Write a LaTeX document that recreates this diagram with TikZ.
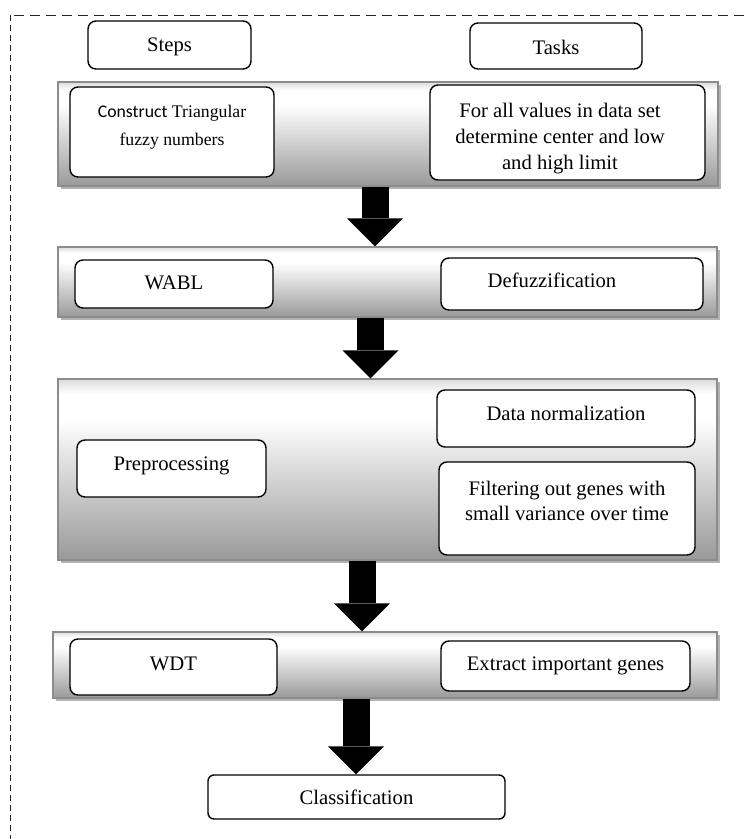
\documentclass[tikz,border=0pt]{standalone}
\usepackage{fontspec}
\setmainfont{Liberation Serif}
\newfontfamily\calibfont{Carlito}
\usetikzlibrary{shadows,arrows.meta,calc}
\newlength\pxu
\setlength\pxu{0.75pt}
\pgfdeclareverticalshading{bandshade}{100bp}{color(0bp)=(black!40); color(25bp)=(black!40); color(64bp)=(white); color(71bp)=(white); color(75bp)=(black!14); color(100bp)=(black!14)}
% #1 raise (px, up), #2 twice the horizontal shift (px), #3 text
\newcommand\tcell[3]{\raisebox{\dimexpr #1\pxu - 7\pxu\relax}[0pt][0pt]{\kern#2\pxu\begin{tabular}{@{}c@{}}#3\end{tabular}}}
\begin{document}
\begin{tikzpicture}[x=0.75pt,y=-0.75pt,
  band/.style={draw=black!45, line width=1.2\pxu, shading=bandshade, inner sep=0pt,
    drop shadow={shadow xshift=2.5\pxu, shadow yshift=-3\pxu, opacity=0.3, fill=black}},
  rbox/.style={draw=black, line width=1.4\pxu, fill=white, rounded corners=8\pxu, inner sep=0pt,
    font=\fontsize{15.5pt}{18.5pt}\selectfont},
  bigarrow/.style={line width=20.25pt, black, -{Triangle[length=21pt, width=42pt, line width=0pt]}},
  frame/.style={black!85, line width=0.9\pxu}]
\useasboundingbox (0,0) rectangle (744,839);
% dashed frame (cropped by the page on the right and at the bottom)
\draw[frame, dash pattern=on 7.5pt off 4.5pt] (744,15) -- (10,15);
\draw[frame, dash pattern=on 4.5pt off 3pt] (10,15) -- (10,839);

% headers
\node[rbox, minimum width=163\pxu, minimum height=48\pxu] (steps) at (169.5,45) {\tcell{1}{0}{Steps}};
\node[rbox, minimum width=172\pxu, minimum height=46\pxu] (tasks) at (556,46) {\tcell{-1}{0}{Tasks}};

% band 1
\node[band, minimum width=660\pxu, minimum height=104\pxu] (band1) at (388,134) {};
\node[rbox, minimum width=204\pxu, minimum height=90\pxu, font=\fontsize{13.3pt}{21pt}\selectfont] (construct) at (172,132)
  {\tcell{8}{0}{{\calibfont Construct} Triangular\\fuzzy numbers}};
\node[rbox, minimum width=275\pxu, minimum height=95\pxu, font=\fontsize{15.5pt}{19.5pt}\selectfont] (forall) at (567.5,132.5)
  {\tcell{-3.5}{-15}{For all values in data set\\determine center and low\\and high limit}};

% band 2
\node[band, minimum width=659\pxu, minimum height=70\pxu] (band2) at (387.5,282) {};
\node[rbox, minimum width=198\pxu, minimum height=48\pxu] (wabl) at (174,284) {\tcell{2}{0}{WABL}};
\node[rbox, minimum width=262\pxu, minimum height=52\pxu] (defuzz) at (572,284) {\tcell{4}{-40}{Defuzzification}};

% band 3
\node[band, minimum width=659\pxu, minimum height=181\pxu] (band3) at (387.5,469.5) {};
\node[rbox, minimum width=258\pxu, minimum height=57\pxu] (datanorm) at (566,418.5) {\tcell{5.5}{0}{Data normalization}};
\node[rbox, minimum width=256\pxu, minimum height=93\pxu] (filtering) at (567,508.5)
  {\tcell{7.5}{0}{Filtering out genes with\\small variance over time}};
\node[rbox, minimum width=189\pxu, minimum height=57\pxu] (preproc) at (171.5,468.5) {\tcell{5.5}{0}{Preprocessing}};

% band 4
\node[band, minimum width=664\pxu, minimum height=66\pxu] (band4) at (385,665) {};
\node[rbox, minimum width=207\pxu, minimum height=56\pxu] (wdt) at (173.5,667) {\tcell{4}{0}{WDT}};
\node[rbox, minimum width=249\pxu, minimum height=50\pxu] (extract) at (565.5,666) {\tcell{3}{0}{Extract important genes}};

% final box
\node[rbox, minimum width=297\pxu, minimum height=44\pxu, rounded corners=6\pxu] (classif) at (356.5,797) {\tcell{0}{0}{Classification}};

% block arrows
\coordinate (x1) at (375,0);
\coordinate (x2) at (370.5,0);
\coordinate (x3) at (362,0);
\coordinate (x4) at (356,0);
\draw[bigarrow] (band1.south -| x1) -- (band2.north -| x1);
\draw[bigarrow] (band2.south -| x2) -- (band3.north -| x2);
\draw[bigarrow] (band3.south -| x3) -- (band4.north -| x3);
\draw[bigarrow] (band4.south -| x4) -- (classif.north -| x4);
\end{tikzpicture}
\end{document}
